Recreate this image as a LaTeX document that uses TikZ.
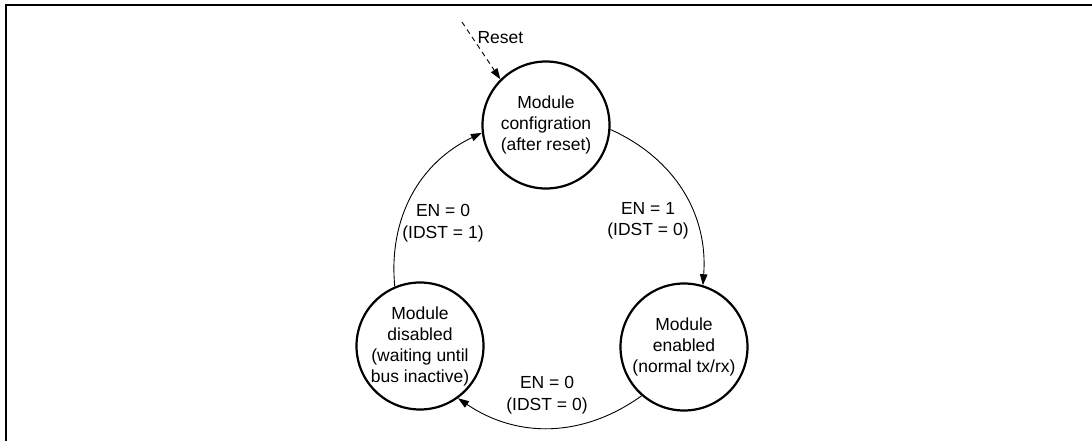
\documentclass[tikz,border=0pt]{standalone}
\usepackage{fontspec}
\setmainfont{Liberation Sans}
\usetikzlibrary{arrows.meta}

\begin{document}
\begin{tikzpicture}[x=1pt,y=-1pt,
        modstate/.style={circle, draw, line width=2.2pt, minimum size=127pt, inner sep=0pt,
            align=center, font=\fontsize{17.5}{21}\selectfont},
        cond/.style={align=center, font=\fontsize{17.5}{21.5}\selectfont},
        trans/.style={line width=0.9pt, -{Triangle[length=11pt,width=7.5pt]}}]
        % Frame
        \useasboundingbox (0,0) rectangle (1092,441);
        \draw[line width=2.2pt] (1092,5) -- (6,5) -- (6,441);

        % States
        \node[modstate] (cfg) at (546,125) {Module\\configration\\(after reset)};
        \node[modstate] (ena) at (684,347) {Module\\enabled\\(normal tx/rx)};
        \node[modstate] (dis) at (420,346) {Module\\disabled\\(waiting until\\bus inactive)};

        % Reset
        \coordinate (rst) at (462,22);
        \draw[line width=0.9pt, dash pattern=on 5pt off 4pt, -{Triangle[length=11pt,width=7.5pt]}]
            (rst) -- (cfg.135) node[pos=0.28, right=1pt, font=\fontsize{17.5}{21}\selectfont] {Reset};

        % Transitions
        \draw[trans] (dis.113) to[bend left=35] (cfg.187);
        \draw[trans] (cfg.356) to[bend left=35] (ena.73);
        \draw[trans] (ena.229) to[bend left=35] (dis.306);

        % Conditions
        \node[cond] (c1) at (443,223) {EN = 0\\(IDST = 1)};
        \node[cond] (c2) at (648,221) {EN = 1\\(IDST = 0)};
        \node[cond] (c3) at (547,395) {EN = 0\\(IDST = 0)};
    \end{tikzpicture}
\end{document}
